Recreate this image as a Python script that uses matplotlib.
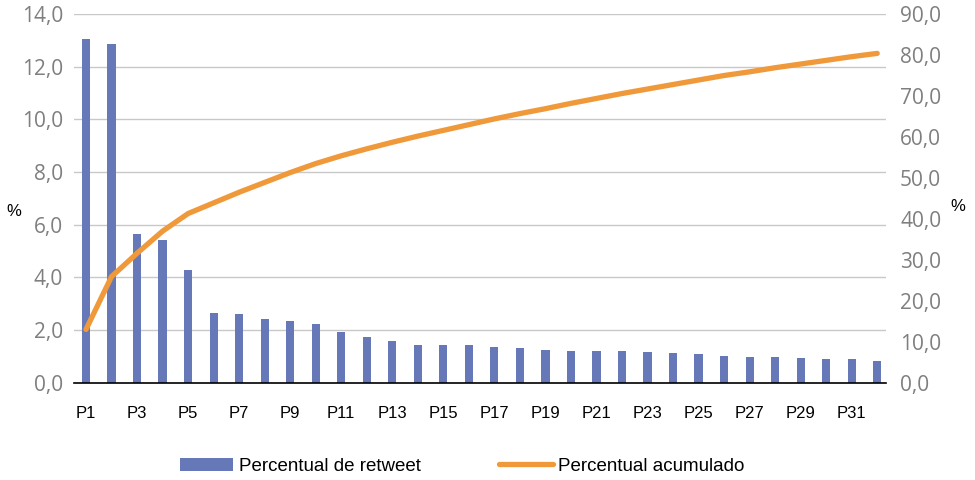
import matplotlib.pyplot as plt
import numpy as np

categories = ['P' + str(i) for i in range(1, 33)]
retweet_pct = [13.04, 12.87, 5.64, 5.41, 4.29, 2.63, 2.62, 2.41, 2.34, 2.22,
               1.91, 1.74, 1.57, 1.45, 1.42, 1.42, 1.36, 1.32, 1.25, 1.22,
               1.21, 1.21, 1.16, 1.11, 1.08, 1.03, 0.98, 0.97, 0.92, 0.91,
               0.89, 0.82]
cumulative_pct = [13.0, 25.9, 31.6, 37.0, 41.3, 43.9, 46.5, 48.9, 51.3, 53.5,
                  55.4, 57.1, 58.7, 60.2, 61.6, 63.0, 64.4, 65.7, 66.9, 68.2,
                  69.4, 70.6, 71.7, 72.8, 73.9, 75.0, 75.9, 76.9, 77.8, 78.7,
                  79.6, 80.4]
left_ticks = [0, 2, 4, 6, 8, 10, 12, 14]
right_ticks = [0, 10, 20, 30, 40, 50, 60, 70, 80, 90]

bar_color = '#6678B8'
line_color = '#F0993A'
tick_gray = '#7F7F7F'

plt.rcParams['font.family'] = ['Liberation Sans', 'DejaVu Sans']

fig = plt.figure(figsize=(9.75, 4.8), dpi=100)
ax = fig.add_axes([0.0759, 0.2027, 0.833, 0.768])
x = np.arange(len(categories))

bars = ax.bar(x, retweet_pct, width=0.32, color=bar_color, zorder=2,
              label='Percentual de retweet')
ax.set_ylim(0, 14)
ax.set_yticks(left_ticks)
ax.set_yticklabels([('%.1f' % v).replace('.', ',') for v in left_ticks],
                   family='Open Sans', fontsize=15, color=tick_gray)
ax.set_xlim(-0.47, 31.35)
ax.set_xticks(x[::2])
ax.set_xticklabels(categories[::2], fontsize=12)
ax.yaxis.grid(True, color='#C8C8C8', linewidth=1, zorder=0)
ax.set_axisbelow(True)
for s in ['top', 'left', 'right']:
    ax.spines[s].set_visible(False)
ax.spines['bottom'].set_color('black')
ax.spines['bottom'].set_linewidth(1.2)
ax.tick_params(axis='y', length=0, pad=8)
ax.tick_params(axis='x', length=0, pad=17)

ax2 = ax.twinx()
line, = ax2.plot(x, cumulative_pct, color=line_color, linewidth=3.8,
                 solid_capstyle='round', label='Percentual acumulado', zorder=3)
ax2.set_ylim(0, 90)
ax2.set_yticks(right_ticks)
ax2.set_yticklabels([('%.1f' % v).replace('.', ',') for v in right_ticks],
                    family='Open Sans', fontsize=15, color=tick_gray)
for s in ['top', 'left', 'right', 'bottom']:
    ax2.spines[s].set_visible(False)
ax2.tick_params(axis='y', length=0, pad=10)

fig.text(0.007, 0.560, '%', fontsize=12, va='center')
fig.text(0.975, 0.569, '%', fontsize=12, va='center')

fig.legend([bars, line], ['Percentual de retweet', 'Percentual acumulado'],
           loc='center', bbox_to_anchor=(0.474, 0.029), ncol=2, frameon=False,
           fontsize=13.5, handlelength=2.85, handletextpad=0.3, columnspacing=4.2)

plt.savefig('out.png', dpi=100)
